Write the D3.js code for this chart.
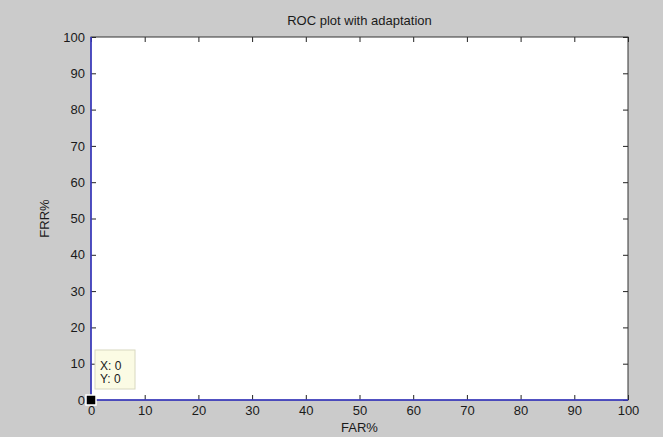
<!DOCTYPE html>
<html>
<head>
<meta charset="utf-8">
<script src="https://cdn.jsdelivr.net/npm/d3@7"></script>
<style>
  body { margin: 0; background: #cbcbcb; }
  svg { display: block; }
  text { font-family: "Liberation Sans", Arial, sans-serif; fill: #1a1a1a; }
</style>
</head>
<body>
<svg id="chart" width="663" height="437"></svg>
<script>
// ROC curve points (FAR%, FRR%)
const farValues = [0, 0, 100];
const frrValues = [100, 0, 0];
const xTicks = [0, 10, 20, 30, 40, 50, 60, 70, 80, 90, 100];
const yTicks = [0, 10, 20, 30, 40, 50, 60, 70, 80, 90, 100];
const tipPoint = { x: 0, y: 0 };

const svg = d3.select('#chart');
const margin = { top: 37, left: 91, right: 35, bottom: 37 };
const width = +svg.attr('width') - margin.left - margin.right;
const height = +svg.attr('height') - margin.top - margin.bottom;

const x = d3.scaleLinear().domain([0, 100]).range([0, width]);
const y = d3.scaleLinear().domain([0, 100]).range([height, 0]);

const g = svg.append('g').attr('transform', `translate(${margin.left},${margin.top})`);

g.append('rect')
    .attr('width', width)
    .attr('height', height)
    .attr('fill', '#fff');

// axes, ticks pointing inward like matlab
function styleAxis(sel, showText) {
    sel.select('.domain').remove();
    sel.selectAll('line').attr('stroke', '#222');
    sel.selectAll('text')
        .style('font-size', '13px')
        .attr('fill', '#1a1a1a')
        .attr('opacity', showText ? 1 : 0);
}

g.append('g')
    .attr('transform', `translate(0,${height})`)
    .call(d3.axisBottom(x).tickValues(xTicks).tickSize(-5).tickPadding(6))
    .call(s => styleAxis(s, true));
g.append('g')
    .call(d3.axisTop(x).tickValues(xTicks).tickSize(-5))
    .call(s => styleAxis(s, false));
g.append('g')
    .call(d3.axisLeft(y).tickValues(yTicks).tickSize(-5).tickPadding(6))
    .call(s => styleAxis(s, true));
g.append('g')
    .attr('transform', `translate(${width},0)`)
    .call(d3.axisRight(y).tickValues(yTicks).tickSize(-5))
    .call(s => styleAxis(s, false));

// box
g.append('rect')
    .attr('width', width)
    .attr('height', height)
    .attr('fill', 'none')
    .attr('stroke', '#333')
    .attr('stroke-width', 1);

// roc line
const points = farValues.map((v, i) => ({ far: v, frr: frrValues[i] }));
g.append('path')
    .datum(points)
    .attr('d', d3.line().x(d => x(d.far)).y(d => y(d.frr)))
    .attr('fill', 'none')
    .attr('stroke', '#3a3ad0')
    .attr('stroke-width', 1.5);

// data tip
const tx = x(tipPoint.x), ty = y(tipPoint.y);
g.append('rect')
    .attr('x', tx + 4)
    .attr('y', ty - 50)
    .attr('width', 40)
    .attr('height', 39)
    .attr('fill', '#fbfbe4')
    .attr('stroke', '#d8d8c0');
g.append('text')
    .attr('x', tx + 9)
    .attr('y', ty - 30)
    .style('font-size', '12px')
    .text(`X: ${tipPoint.x}`);
g.append('text')
    .attr('x', tx + 9)
    .attr('y', ty - 17)
    .style('font-size', '12px')
    .text(`Y: ${tipPoint.y}`);
g.append('rect')
    .attr('x', tx - 5)
    .attr('y', ty - 5)
    .attr('width', 10)
    .attr('height', 10)
    .attr('fill', '#000')
    .attr('stroke', '#fff')
    .attr('stroke-width', 1.5);

// labels
svg.append('text')
    .attr('x', margin.left + width / 2)
    .attr('y', 25)
    .attr('text-anchor', 'middle')
    .style('font-size', '13px')
    .text('ROC plot with adaptation');
svg.append('text')
    .attr('x', margin.left + width / 2)
    .attr('y', 432)
    .attr('text-anchor', 'middle')
    .style('font-size', '13px')
    .text('FAR%');
svg.append('text')
    .attr('transform', `translate(49,${margin.top + height / 2}) rotate(-90)`)
    .attr('text-anchor', 'middle')
    .style('font-size', '13px')
    .text('FRR%');
</script>
</body>
</html>
